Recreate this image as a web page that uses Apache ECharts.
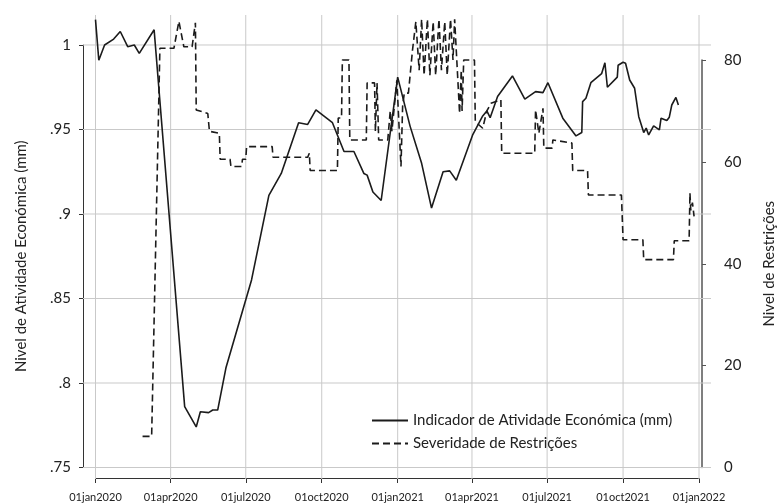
<!DOCTYPE html>
<html>
<head>
<meta charset="utf-8">
<script src="https://cdn.jsdelivr.net/npm/echarts@6/dist/echarts.min.js"></script>
<style>
  html, body { margin: 0; padding: 0; background: #fff; }
  #chart { width: 784px; height: 503px; }
</style>
</head>
<body>
<div id="chart"></div>
<script>
// Indicador de Atividade Económica (mm) - eixo esquerdo
const actDates = [
  '2020-01-01', '2020-01-05', '2020-01-12', '2020-01-23', '2020-01-31', '2020-02-09', '2020-02-17', '2020-02-23',
  '2020-03-12', '2020-04-18', '2020-05-02', '2020-05-07', '2020-05-17', '2020-05-22', '2020-05-28', '2020-06-07',
  '2020-07-08', '2020-07-29', '2020-08-13', '2020-09-03', '2020-09-14', '2020-09-24', '2020-10-14', '2020-10-28',
  '2020-11-09', '2020-11-21', '2020-11-25', '2020-12-02', '2020-12-12', '2021-01-01', '2021-01-16', '2021-01-30',
  '2021-02-11', '2021-02-25', '2021-03-05', '2021-03-13', '2021-04-02', '2021-04-14', '2021-04-19', '2021-04-23',
  '2021-05-02', '2021-05-20', '2021-06-04', '2021-06-17', '2021-06-26', '2021-07-02', '2021-07-20', '2021-08-05',
  '2021-08-12', '2021-08-13', '2021-08-17', '2021-08-23', '2021-09-05', '2021-09-09', '2021-09-12', '2021-09-24',
  '2021-09-25', '2021-10-01', '2021-10-04', '2021-10-09', '2021-10-15', '2021-10-20', '2021-10-26', '2021-10-29',
  '2021-11-01', '2021-11-07', '2021-11-14', '2021-11-16', '2021-11-23', '2021-11-26', '2021-11-29', '2021-12-04',
  '2021-12-07'
];
const actValues = [
  1.015, 0.991, 1.000, 1.0035, 1.008, 0.999, 1.000, 0.995,
  1.009, 0.786, 0.774, 0.783, 0.7825, 0.784, 0.784, 0.809,
  0.861, 0.911, 0.924, 0.954, 0.953, 0.9616, 0.954, 0.937,
  0.937, 0.924, 0.923, 0.913, 0.908, 0.981, 0.952, 0.930,
  0.9035, 0.925, 0.9255, 0.920, 0.947, 0.958, 0.961, 0.957,
  0.9695, 0.9817, 0.968, 0.9724, 0.9718, 0.9777, 0.9567, 0.9462,
  0.9482, 0.9665, 0.9685, 0.9777, 0.983, 0.9895, 0.975, 0.981,
  0.988, 0.9898, 0.9892, 0.9793, 0.9744, 0.9576, 0.9482, 0.9508,
  0.9468, 0.9521, 0.9498, 0.9567, 0.9553, 0.9573, 0.9645, 0.969,
  0.9645
];

// Severidade de Restrições - eixo direito
const strDates = [
  '2020-02-27', '2020-03-09', '2020-03-19', '2020-04-05', '2020-04-11', '2020-04-17', '2020-04-27', '2020-05-01',
  '2020-05-02', '2020-05-16', '2020-05-18', '2020-05-30', '2020-05-31', '2020-06-12', '2020-06-13', '2020-06-26',
  '2020-06-27', '2020-07-01', '2020-07-02', '2020-08-02', '2020-08-03', '2020-09-14', '2020-09-16', '2020-09-17',
  '2020-10-20', '2020-10-21', '2020-10-25', '2020-10-26', '2020-11-03', '2020-11-04', '2020-11-24', '2020-11-25',
  '2020-12-04', '2020-12-05', '2020-12-07', '2020-12-09', '2020-12-20', '2020-12-23', '2020-12-25', '2020-12-31',
  '2021-01-05', '2021-01-07', '2021-01-09', '2021-01-14', '2021-01-19', '2021-01-23', '2021-01-27', '2021-01-30',
  '2021-02-02', '2021-02-06', '2021-02-09', '2021-02-13', '2021-02-16', '2021-02-20', '2021-02-23', '2021-02-27',
  '2021-03-02', '2021-03-06', '2021-03-09', '2021-03-11', '2021-03-17', '2021-03-19', '2021-03-20', '2021-03-22',
  '2021-04-04', '2021-04-05', '2021-04-14', '2021-04-19', '2021-04-24', '2021-05-06', '2021-05-07', '2021-06-16',
  '2021-06-17', '2021-06-21', '2021-06-26', '2021-06-27', '2021-07-07', '2021-07-08', '2021-07-31', '2021-08-01',
  '2021-08-19', '2021-08-20', '2021-09-29', '2021-10-01', '2021-10-25', '2021-10-26', '2021-12-01', '2021-12-02',
  '2021-12-20', '2021-12-21', '2021-12-22', '2021-12-24', '2021-12-26'
];
const strValues = [
  6.1, 6.1, 82.3, 82.3, 87.6, 82.6, 82.6, 87.3,
  70.2, 69.5, 66, 65.6, 60.5, 60.5, 59.1, 59.1,
  60.5, 60.5, 63, 63, 60.9, 60.9, 61.7, 58.3,
  58.3, 68.6, 68.6, 80, 80, 64.3, 64.3, 75.5,
  75.5, 66, 75.5, 64.3, 64.3, 70, 66, 76,
  59.1, 70.9, 73.5, 73.5, 82, 87.5, 78, 88,
  77, 88, 77, 87.5, 77, 88, 78, 87.5,
  77, 88, 80, 88, 69.5, 78, 70, 80,
  80, 67.9, 66.6, 70, 71.5, 72.2, 61.7, 61.7,
  70.2, 65.6, 70.5, 62.7, 62.7, 64.3, 63.7, 58.3,
  58.3, 53.5, 53.5, 44.7, 44.7, 40.8, 40.8, 44.5,
  44.5, 53.9, 50.5, 52, 49.3
];

const quarterTicks = [
  '2020-01-01', '2020-04-01', '2020-07-01', '2020-10-01', '2021-01-01',
  '2021-04-01', '2021-07-01', '2021-10-01', '2022-01-01'
];
const leftTicks = [0.75, 0.8, 0.85, 0.9, 0.95, 1];
const monthNames = ['jan', 'feb', 'mar', 'apr', 'may', 'jun', 'jul', 'aug', 'sep', 'oct', 'nov', 'dec'];

const DAY = 864e5;
const ts = (s) => { const p = s.split('-'); return +new Date(+p[0], +p[1] - 1, +p[2]); };
const start = ts('2020-01-01');
const end = ts('2022-01-01');
const quarterTs = quarterTicks.map(ts);
const font = 'Lato';
const ink = '#1b1b1b';
const gridColor = '#c9c9c9';

// extensão da área dos dados (em unidades dos eixos)
const xMin = start - 15.14 * DAY, xMax = start + 745.5 * DAY;
const yMin = 0.7432, yMax = 1.01775;

// segmentos da grelha, separados por pontos vazios
const gridPoints = [];
leftTicks.forEach((v) => { gridPoints.push([xMin, v], [xMax, v], [xMax, null]); });
quarterTs.forEach((d) => { gridPoints.push([d, yMin], [d, yMax], [d, null]); });

const chart = echarts.init(document.getElementById('chart'), null, { renderer: 'canvas' });

const fmtDate = (v) => {
  const d = new Date(v);
  return String(d.getDate()).padStart(2, '0') + monthNames[d.getMonth()] + d.getFullYear();
};
const fmtLeft = (v) => (Math.abs(v - 1) < 1e-9 ? '1' : String(+v.toFixed(2)).replace(/^0\./, '.'));

chart.setOption({
  backgroundColor: '#fff',
  animation: false,
  grid: [
    { left: 83, right: 73, top: 15, bottom: 24 },          // área dos dados
    { left: 83, width: 10, top: 45, bottom: 35.5 },        // eixo esquerdo
    { right: 72, width: 10, top: 60, bottom: 35.5 },       // eixo direito
    { left: 95.5, right: 85, top: 470, bottom: 24 }        // eixo das datas
  ],
  xAxis: [
    { type: 'value', gridIndex: 0, show: false, min: xMin, max: xMax },
    { type: 'value', gridIndex: 1, show: false, min: 0, max: 1 },
    { type: 'value', gridIndex: 2, show: false, min: 0, max: 1 },
    {
      type: 'value', gridIndex: 3, position: 'bottom', min: start, max: end,
      axisLine: { show: true, lineStyle: { color: '#333', width: 1 } },
      axisTick: { show: true, length: 5, lineStyle: { color: '#333' }, customValues: quarterTs },
      axisLabel: { show: false },
      splitLine: { show: false }
    },
    {
      type: 'value', gridIndex: 3, position: 'bottom', min: start, max: end, offset: 4,
      axisLine: { show: false },
      axisTick: { show: false, customValues: quarterTs },
      axisLabel: {
        show: true, customValues: quarterTs, formatter: fmtDate, margin: 10,
        fontFamily: font, fontSize: 11, color: '#222', hideOverlap: false
      },
      splitLine: { show: false }
    }
  ],
  yAxis: [
    { type: 'value', gridIndex: 0, show: false, min: yMin, max: yMax },
    { type: 'value', gridIndex: 0, show: false, min: -2.258, max: 88.83 },
    {
      type: 'value', gridIndex: 1, position: 'left', min: 0.75, max: 1, interval: 0.05,
      name: 'Nivel de Atividade Económica (mm)', nameLocation: 'middle', nameRotate: 90, nameGap: 54,
      nameTextStyle: { fontFamily: font, fontSize: 15, color: '#222' },
      axisLine: { show: true, lineStyle: { color: '#333', width: 1 } },
      axisTick: { show: true, length: 4, lineStyle: { color: '#333' } },
      axisLabel: { formatter: fmtLeft, margin: 12, fontFamily: font, fontSize: 15, color: '#222' },
      splitLine: { show: false }
    },
    {
      type: 'value', gridIndex: 2, position: 'right', min: 0, max: 80, interval: 20,
      name: 'Nivel de Restrições', nameLocation: 'middle', nameRotate: 90, nameGap: 50,
      nameTextStyle: { fontFamily: font, fontSize: 15, color: '#222' },
      axisLine: { show: true, lineStyle: { color: '#555', width: 1.5 } },
      axisTick: { show: true, length: 4, lineStyle: { color: '#555' } },
      axisLabel: { margin: 12, fontFamily: font, fontSize: 15, color: '#222' },
      splitLine: { show: false }
    },
    { type: 'value', gridIndex: 3, show: false, min: 0, max: 1 }
  ],
  legend: {
    orient: 'vertical', left: 366, top: 408, itemWidth: 36, itemHeight: 12, itemGap: 8,
    itemStyle: { opacity: 0 },
    textStyle: { fontFamily: font, fontSize: 15, color: '#222' },
    data: ['Indicador de Atividade Económica (mm)', 'Severidade de Restrições']
  },
  series: [
    {
      // linhas de grelha horizontais e verticais
      name: 'grelha', type: 'line', xAxisIndex: 0, yAxisIndex: 0,
      z: 1, silent: true, showSymbol: false, symbol: 'none', connectNulls: false,
      lineStyle: { color: gridColor, width: 1 },
      data: gridPoints
    },
    {
      name: 'Indicador de Atividade Económica (mm)', type: 'line', xAxisIndex: 0, yAxisIndex: 0,
      showSymbol: false, symbol: 'none', z: 4,
      lineStyle: { color: ink, width: 1.6 }, itemStyle: { color: ink },
      data: actDates.map((d, i) => [ts(d), actValues[i]])
    },
    {
      name: 'Severidade de Restrições', type: 'line', xAxisIndex: 0, yAxisIndex: 1,
      showSymbol: false, symbol: 'none', z: 3,
      lineStyle: { color: ink, width: 1.6, type: [7, 4] }, itemStyle: { color: ink },
      data: strDates.map((d, i) => [ts(d), strValues[i]])
    }
  ]
});
</script>
</body>
</html>
